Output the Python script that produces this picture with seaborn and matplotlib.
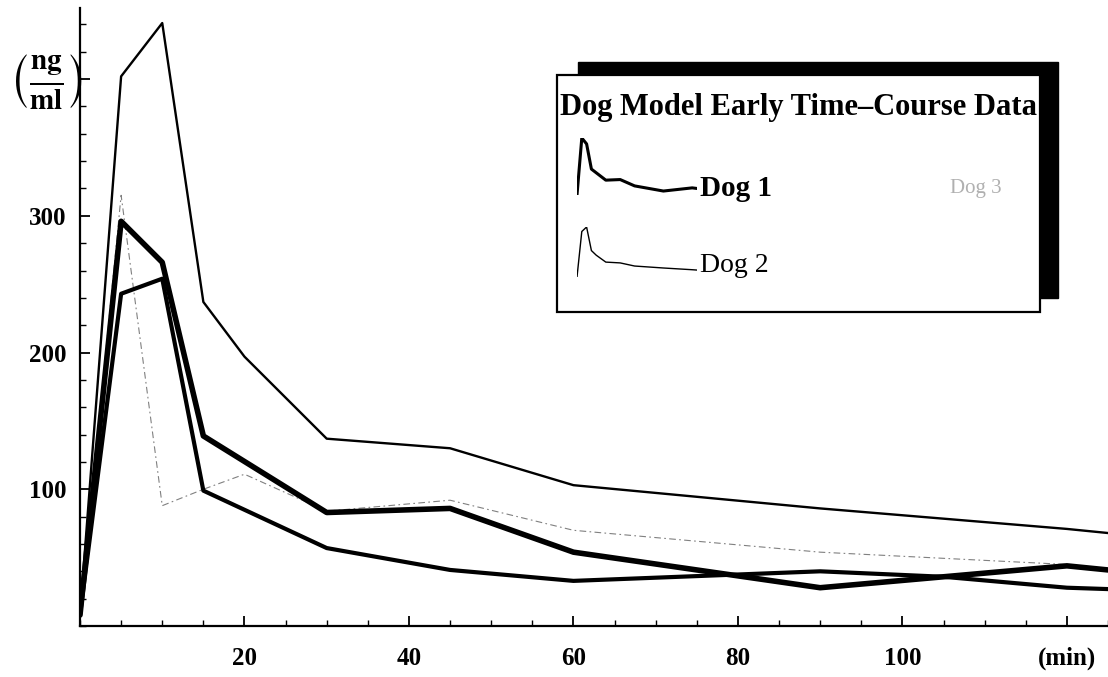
import matplotlib
matplotlib.use("Agg")
import matplotlib.pyplot as plt
import seaborn as sns
import pandas as pd
from matplotlib.patches import Rectangle
from matplotlib.ticker import MultipleLocator
from matplotlib.transforms import blended_transform_factory

# ---------------- data ----------------
dog1_t = [0, 5, 10, 15, 30, 45, 60, 90, 105, 120, 125]
dog1_v = [8, 296, 266, 139, 83, 86, 54, 28, 36, 44, 41]

dog2_t = [0, 5, 10, 15, 20, 30, 45, 60, 90, 120, 125]
dog2_v = [8, 402, 441, 237, 197, 137, 130, 103, 86, 71, 68]

dog3_t = [0, 5, 10, 15, 20, 30, 45, 60, 90, 120]
dog3_v = [8, 315, 88, 100, 111, 84, 92, 70, 54, 45]

extra_t = [0, 5, 10, 15, 30, 45, 60, 90, 105, 120, 125]
extra_v = [8, 243, 254, 99, 57, 41, 33, 40, 36, 28, 27]

x_ticks = [20, 40, 60, 80, 100, 120]
x_labels = ["20", "40", "60", "80", "100", "(min)"]
y_ticks = [100, 200, 300, 400]
y_labels = ["100", "200", "300", ""]
y_unit = r"$\left(\frac{\mathbf{ng}}{\mathbf{ml}}\right)$"

legend_title = "Dog Model Early Time\u2013Course Data"
legend_names = ["Dog 1", "Dog 2", "Dog 3"]

# ---------------- style ----------------
sns.set_style("white")
plt.rcParams["font.family"] = ["Liberation Serif", "DejaVu Serif"]
plt.rcParams["mathtext.fontset"] = "stix"
plt.rcParams["text.color"] = "black"
plt.rcParams["xtick.color"] = "black"
plt.rcParams["ytick.color"] = "black"

W, H = 1108, 677
fig = plt.figure(figsize=(W / 100, H / 100), dpi=100)
fx = lambda x: x / W
fy = lambda y: 1 - y / H

ax = fig.add_axes([fx(80), fy(626), 1028 / W, 618 / H])
ax.set_facecolor("white")

def draw(axis, t, v, **kw):
    df = pd.DataFrame({"t": t, "v": v})
    sns.lineplot(data=df, x="t", y="v", ax=axis, estimator=None, sort=False, **kw)

draw(ax, dog3_t, dog3_v, color="#808080", linewidth=0.8, linestyle=(0, (6, 3, 1.5, 3)))
draw(ax, dog2_t, dog2_v, color="black", linewidth=1.7)
draw(ax, extra_t, extra_v, color="black", linewidth=3.0)
draw(ax, dog1_t, dog1_v, color="black", linewidth=4.0)

ax.set_xlim(0, 125)
ax.set_ylim(0, 452)
ax.set_xlabel("")
ax.set_ylabel("")
for s in ["top", "right"]:
    ax.spines[s].set_visible(False)
for s in ["left", "bottom"]:
    ax.spines[s].set_color("black")
    ax.spines[s].set_linewidth(1.6)

ax.set_xticks(x_ticks)
ax.set_xticklabels(x_labels, fontweight="bold", fontsize=18)
ax.xaxis.set_minor_locator(MultipleLocator(5))
ax.set_yticks(y_ticks)
ax.set_yticklabels(y_labels, fontweight="bold", fontsize=18)
ax.yaxis.set_minor_locator(MultipleLocator(20))
ax.tick_params(which="both", bottom=True, left=True, top=False, right=False)
ax.tick_params(which="major", direction="in", length=7, width=1.3, color="black")
ax.tick_params(which="minor", direction="in", length=4, width=1.0, color="black")
ax.tick_params(axis="x", which="major", pad=15)
ax.tick_params(axis="y", which="major", pad=10)

trans = blended_transform_factory(fig.transFigure, ax.transData)
ax.text(fx(46), 398, y_unit, transform=trans, ha="center", va="center", fontsize=30)

# ---------------- legend box with shadow ----------------
shadow = Rectangle((fx(578), fy(298)), (1058 - 578) / W, (298 - 62) / H,
                   transform=fig.transFigure, facecolor="black", edgecolor="black", zorder=3)
box = Rectangle((fx(557), fy(312)), (1040 - 557) / W, (312 - 75) / H,
                transform=fig.transFigure, facecolor="white", edgecolor="black",
                linewidth=1.6, zorder=4)
fig.add_artist(shadow)
fig.add_artist(box)

fig.text(fx(799), fy(108), legend_title, ha="center", va="center", fontsize=22,
         fontweight="bold", zorder=6)
fig.text(fx(700), fy(188), legend_names[0], ha="left", va="center", fontsize=21,
         fontweight="bold", zorder=6)
fig.text(fx(700), fy(266), legend_names[1], ha="left", va="center", fontsize=20, zorder=6)
fig.text(fx(950), fy(188), legend_names[2], ha="left", va="center", fontsize=15,
         color="#b0b0b0", zorder=6)

ins1 = fig.add_axes([fx(577), fy(195), 120 / W, 57 / H], zorder=5)
draw(ins1, dog1_t, dog1_v, color="black", linewidth=2.2)
ins1.set_xlim(0, 125)
ins1.set_ylim(min(dog1_v), max(dog1_v))
ins1.axis("off")

ins2 = fig.add_axes([fx(577), fy(277), 120 / W, 50 / H], zorder=5)
draw(ins2, dog2_t, dog2_v, color="black", linewidth=1.0)
ins2.set_xlim(0, 125)
ins2.set_ylim(min(dog2_v), max(dog2_v))
ins2.axis("off")

fig.savefig("out.png", dpi=100)
